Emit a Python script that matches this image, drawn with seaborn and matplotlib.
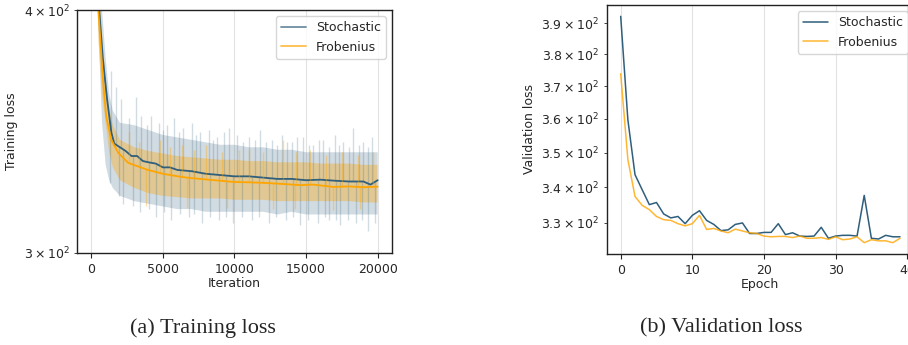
import numpy as np
import pandas as pd
import matplotlib
matplotlib.use("Agg")
import matplotlib.pyplot as plt
import seaborn as sns

# ---- training loss (iterations) ----
band_iter = [0, 250, 500, 750, 1000, 1250, 1500, 2000, 3000, 4000, 5000, 6000, 7000,
             8000, 9000, 10000, 11000, 12000, 13000, 14000, 15000, 16000, 17000,
             18000, 19000, 19999]
stoch_hi = [900, 600, 450, 400, 378, 362, 355, 350, 349, 347, 345, 344, 343,
            342, 341, 341, 340, 340, 339, 339, 338, 338, 338, 338, 338, 338]
stoch_lo = [600, 480, 390, 350, 333, 327, 324, 321, 319, 318, 317, 316, 316,
            315, 315, 315, 315, 315, 314, 315, 314, 314, 314, 314, 314, 314]
frob_hi = [900, 520, 420, 388, 368, 356, 349, 343, 340, 338.5, 337.5, 336.5, 336,
           335.5, 335, 335, 334.5, 334.5, 334, 334, 334, 333.5, 333.5, 333.5, 333, 333]
frob_lo = [700, 470, 385, 362, 350, 338, 332, 327, 324, 322, 321, 320.5, 320,
           320, 320, 319.5, 319.5, 319.5, 319, 319, 319, 319, 319, 319, 318.5, 318.5]

# individual noisy batches sticking out of the bands
stoch_spike_iter = [1400, 1700, 2100, 2600, 3100, 3500, 3900, 4200, 4700, 5000, 5300,
                    5800, 6100, 6400, 7000, 7300, 7600, 8200, 8500, 8800, 9300, 9600,
                    10200, 10600, 11000, 11400, 11800, 12200, 12600, 13000, 13300,
                    13700, 14000, 14400, 14800, 15200, 15500, 15900, 16200, 16600,
                    17000, 17300, 17600, 18000, 18300, 18700, 19000, 19300, 19600,
                    1300, 1900, 2200, 2900, 3400, 4000, 4500, 5100, 5600, 6200, 6800,
                    7200, 7700, 8300, 8900, 9400, 9900, 10500, 11200, 11700, 12400,
                    12900, 13600, 14100, 14600, 15100, 15800, 16300, 16600, 17100,
                    17400, 17900, 18500, 18900, 19300, 19800]
stoch_spike_val = [372, 365, 360, 352, 361, 353, 349, 353, 350, 347, 349,
                   352, 346, 348, 350, 345, 346, 347, 343, 344, 346, 348,
                   345, 342, 344, 343, 347, 342, 343, 341, 345,
                   342, 342, 344, 344, 341, 341, 343, 343, 340,
                   345, 341, 342, 340, 348, 341, 342, 340, 344,
                   326, 321, 318, 317, 315, 316, 313, 315, 312, 314, 313,
                   314, 311, 313, 312, 313, 311, 313, 312, 313, 311,
                   313, 312, 313, 310, 312, 311, 313, 312, 312,
                   310, 312, 311, 312, 308, 311]
frob_spike_iter = [2600, 3300, 4800, 5500, 6300, 7200, 8000, 9100, 10300, 11000,
                   12000, 13400, 14300, 15300, 16400, 17500, 18600, 19700,
                   3800, 6700, 9500, 12700, 14200, 16900, 18800]
frob_spike_val = [346, 342, 343, 340, 341, 339, 341, 338, 339, 339,
                  338, 343, 338, 339, 337, 338, 337, 338,
                  317, 316.5, 316.5, 316, 316, 315.5, 316]

stoch_mean_iter = [0, 300, 550, 800, 1100, 1400, 1600, 2000, 2400, 2800, 3200, 3600,
                   4000, 4500, 5000, 5500, 6000, 7000, 8000, 9000, 10000, 11000,
                   12000, 13000, 14000, 15000, 16000, 17000, 18000, 19000, 19500, 19999]
stoch_mean = [600, 470, 400, 378, 360, 346, 341.5, 340, 338.5, 336.5, 336.5, 334.5,
              334, 333.5, 332, 332, 331, 330.5, 329.5, 329, 328.5, 328.5,
              328, 327.5, 327.5, 327, 327.2, 326.8, 326.5, 326.5, 325.3, 327]
frob_mean_iter = [0, 250, 490, 830, 1040, 1390, 1880, 2570, 3200, 3960, 5000, 6260,
                  7000, 8000, 9000, 10000, 11000, 12300, 13500, 14600, 15500, 16900,
                  18000, 19000, 19999]
frob_mean = [650, 470, 400, 367, 352.5, 343, 337.8, 333.8, 332.5, 331, 329.5, 328.3,
             327.8, 327.3, 326.8, 326.3, 326.2, 325.9, 325.5, 325.1, 325.3, 324.4,
             324.6, 324.3, 324.5]

# ---- validation loss (epochs) ----
epochs = list(range(40))
val_stoch = [392.3, 359.8, 343.6, 339.3, 335.1, 335.7, 332.5, 331.4, 331.8, 329.8,
             332.1, 333.4, 330.7, 329.6, 327.9, 328.1, 329.6, 330.0, 327.1, 327.1,
             327.4, 327.4, 329.8, 326.8, 327.3, 326.4, 326.3, 326.4, 328.8, 325.8,
             326.4, 326.6, 326.6, 326.4, 337.7, 325.8, 325.6, 326.6, 326.2, 326.2]
val_frob = [373.9, 348.0, 337.4, 334.9, 333.7, 331.8, 330.9, 330.7, 329.8, 329.2,
            329.8, 332.1, 328.2, 328.5, 327.8, 327.3, 328.3, 327.8, 327.3, 327.1,
            326.4, 326.2, 326.3, 326.3, 326.0, 326.4, 325.8, 325.8, 326.0, 325.5,
            326.2, 325.4, 325.6, 326.2, 324.6, 325.4, 325.1, 325.1, 324.6, 325.8]

BLUE = "#2f5f7c"
ORANGE = "#ffa500"

sns.set_style("ticks")
plt.rcParams.update({
    "font.family": ["DejaVu Sans"],
    "font.size": 9,
    "axes.labelsize": 9,
    "xtick.labelsize": 9,
    "ytick.labelsize": 9,
    "legend.fontsize": 9,
    "xtick.major.size": 3.5,
    "ytick.major.size": 3.5,
    "ytick.minor.size": 2,
    "axes.edgecolor": "#222222",
    "axes.linewidth": 1.0,
})

fig = plt.figure(figsize=(9.08, 3.45), dpi=100)
ax1 = fig.add_axes([0.0848, 0.2667, 0.3469, 0.7043])
ax2 = fig.add_axes([0.6682, 0.2638, 0.3384, 0.7217])

# left: training loss
ax1.fill_between(band_iter, stoch_lo, stoch_hi, color=BLUE, alpha=0.22, lw=0)
base_s = np.interp(stoch_spike_iter, stoch_mean_iter, stoch_mean)
ax1.vlines(stoch_spike_iter, base_s, stoch_spike_val, color=BLUE, alpha=0.22, lw=1.0)
sns.lineplot(x=stoch_mean_iter, y=stoch_mean, ax=ax1, color=BLUE, lw=1.3,
             label="Stochastic")
ax1.fill_between(band_iter, frob_lo, frob_hi, color=ORANGE, alpha=0.35, lw=0)
base_f = np.interp(frob_spike_iter, frob_mean_iter, frob_mean)
ax1.vlines(frob_spike_iter, base_f, frob_spike_val, color=ORANGE, alpha=0.35, lw=1.0)
sns.lineplot(x=frob_mean_iter, y=frob_mean, ax=ax1, color=ORANGE, lw=1.3,
             label="Frobenius")
ax1.set_yscale("log")
ax1.set_ylim(300, 400)
ax1.set_xlim(-1000, 21000)
ax1.set_xticks([0, 5000, 10000, 15000, 20000])
ax1.set_xlabel("Iteration", labelpad=1)
ax1.set_ylabel("Training loss")
ax1.grid(axis="x", color="#e2e2e2", lw=0.8)
ax1.grid(axis="y", visible=False, which="both")
leg = ax1.legend(loc="upper right")
for h in leg.get_lines():
    h.set_alpha(0.7)

# right: validation loss
df_val = pd.DataFrame({
    "Epoch": epochs * 2,
    "loss": val_stoch + val_frob,
    "method": ["Stochastic"] * 40 + ["Frobenius"] * 40,
})
sns.lineplot(data=df_val, x="Epoch", y="loss", hue="method", ax=ax2,
             palette={"Stochastic": BLUE, "Frobenius": ORANGE}, lw=1.1)
for ln in ax2.get_lines():
    if ln.get_color() == ORANGE:
        ln.set_alpha(0.8)
ax2.set_yscale("log")
ax2.set_xticks([0, 10, 20, 30, 40])
ax2.set_xlabel("Epoch", labelpad=1)
ax2.set_ylabel("Validation loss")
ax2.grid(axis="x", color="#e2e2e2", lw=0.8)
ax2.grid(axis="y", visible=False, which="both")
leg2 = ax2.legend(loc="upper right", title=None)
for h in leg2.get_lines():
    if h.get_color() == ORANGE:
        h.set_alpha(0.8)

fig.text(0.2236, 0.05, "(a) Training loss", ha="center", va="center",
         family="Liberation Serif", fontsize=16)
fig.text(0.7946, 0.05, "(b) Validation loss", ha="center", va="center",
         family="Liberation Serif", fontsize=16)

fig.savefig("out.png", dpi=100)
